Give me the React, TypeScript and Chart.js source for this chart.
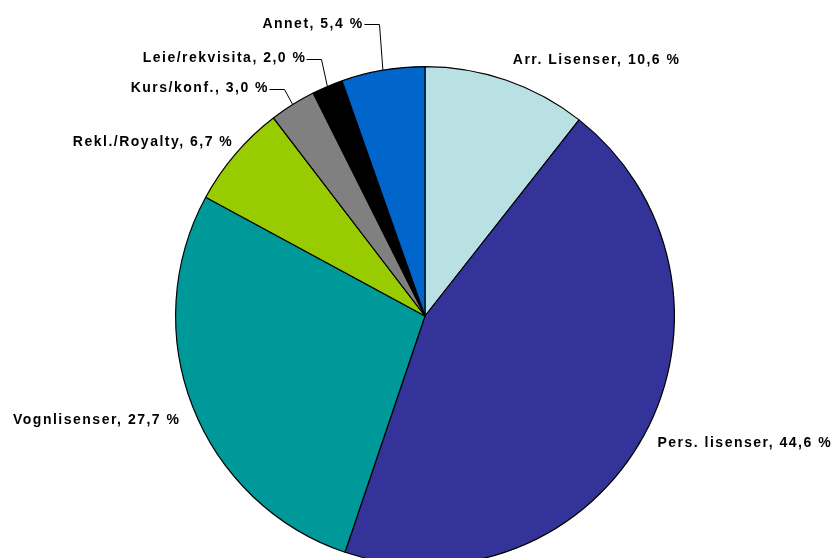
import React, { useEffect, useRef } from "react";
import { Chart, registerables } from "chart.js";

Chart.register(...registerables);

const categories = [
  "Arr. Lisenser",
  "Pers. lisenser",
  "Vognlisenser",
  "Rekl./Royalty",
  "Kurs/konf.",
  "Leie/rekvisita",
  "Annet",
];
const shares = [10.6, 44.6, 27.7, 6.7, 3.0, 2.0, 5.4];
const sliceColors = ["#B9E0E3", "#333399", "#009999", "#99CC00", "#808080", "#000000", "#0066CC"];

// label layout: text left edge / vertical middle, relative to the pie centre in radius units
const labelPlacement = [
  { dx: 0.352, dy: -1.024, leader: false },
  { dx: 0.932, dy: 0.508, leader: false },
  { dx: -1.652, dy: 0.416, leader: false },
  { dx: -1.412, dy: -0.696, leader: false },
  { dx: -1.18, dy: -0.912, leader: true },
  { dx: -1.132, dy: -1.032, leader: true },
  { dx: -0.652, dy: -1.172, leader: true },
];

const fmt = (v: number) => v.toFixed(1).replace(".", ",") + " %";

const labelPlugin = {
  id: "pieLabels",
  afterDatasetsDraw(chart: any) {
    const ctx = chart.ctx as CanvasRenderingContext2D;
    const meta = chart.getDatasetMeta(0);
    ctx.save();
    ctx.font = 'bold 14px "Liberation Sans", Arial, sans-serif';
    (ctx as any).letterSpacing = "1.5px";
    ctx.textBaseline = "middle";
    ctx.textAlign = "left";
    ctx.fillStyle = "#000";
    ctx.strokeStyle = "#000";
    ctx.lineWidth = 1;
    meta.data.forEach((arc: any, i: number) => {
      const { x, y, outerRadius, startAngle, endAngle } = arc.getProps(
        ["x", "y", "outerRadius", "startAngle", "endAngle"],
        true
      );
      const p = labelPlacement[i];
      const text = `${categories[i]}, ${fmt(shares[i])}`;
      const tx = x + p.dx * outerRadius;
      const ty = y + p.dy * outerRadius;
      ctx.fillText(text, tx, ty);
      if (p.leader) {
        const w = ctx.measureText(text).width;
        const mid = (startAngle + endAngle) / 2;
        const ex = x + Math.cos(mid) * outerRadius;
        const ey = y + Math.sin(mid) * outerRadius;
        const sx = Math.round(tx + w) + 0.5;
        const ly = Math.round(ty) + 0.5;
        ctx.beginPath();
        ctx.moveTo(sx, ly);
        ctx.lineTo(sx + 15, ly);
        ctx.lineTo(ex, ey);
        ctx.stroke();
      }
    });
    ctx.restore();
  },
};

export default function App() {
  const ref = useRef<HTMLCanvasElement>(null);
  useEffect(() => {
    if (!ref.current) return;
    const chart = new Chart(ref.current, {
      type: "pie",
      data: {
        labels: categories,
        datasets: [
          {
            data: shares,
            backgroundColor: sliceColors,
            borderColor: "#000",
            borderWidth: 1.2,
          },
        ],
      },
      options: {
        responsive: false,
        animation: false,
        devicePixelRatio: 1,
        layout: { padding: { top: 66, bottom: 74, left: 175, right: 160 } },
        plugins: {
          legend: { display: false },
          tooltip: { enabled: false },
        },
      },
      plugins: [labelPlugin],
    });
    return () => chart.destroy();
  }, []);
  return (
    <div
      style={{
        position: "absolute",
        top: 0,
        left: 0,
        width: 835,
        height: 558,
        overflow: "hidden",
        background: "#fff",
      }}
    >
      <canvas ref={ref} width={835} height={640} style={{ display: "block" }} />
    </div>
  );
}
